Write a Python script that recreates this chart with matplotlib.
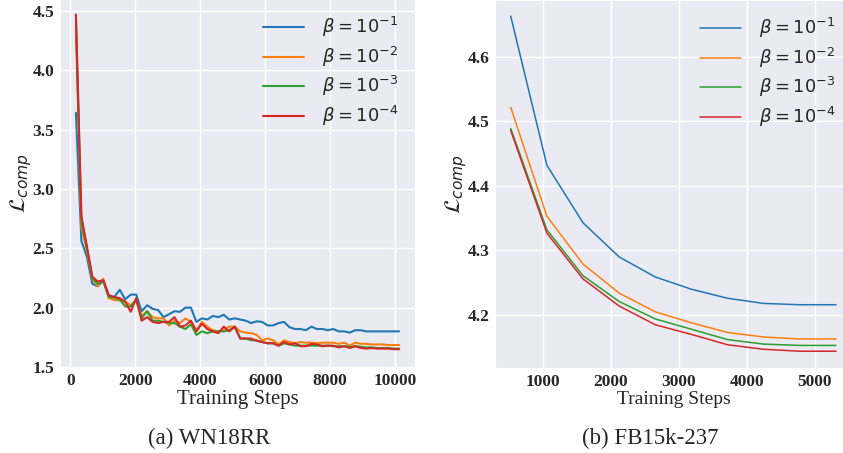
import numpy as np
import matplotlib
matplotlib.use("Agg")
import matplotlib.pyplot as plt
import seaborn as sns

# ---------------- data ----------------
labels = [r"$\beta=10^{-1}$", r"$\beta=10^{-2}$", r"$\beta=10^{-3}$", r"$\beta=10^{-4}$"]
colors = ["#1f77b4", "#ff7f0e", "#2ca02c", "#d62728"]

# WN18RR (left panel): 60 logged points
wn_steps = np.linspace(170, 10120, 60)
wn_b1 = [3.64, 2.56, 2.43, 2.20, 2.18, 2.23, 2.09, 2.09, 2.15, 2.07,
         2.11, 2.11, 1.97, 2.02, 1.99, 1.98, 1.92, 1.945, 1.97, 1.965,
         2.00, 2.00, 1.88, 1.91, 1.90, 1.93, 1.92, 1.94, 1.90, 1.91,
         1.90, 1.89, 1.87, 1.885, 1.88, 1.85, 1.85, 1.87, 1.88, 1.835,
         1.82, 1.82, 1.81, 1.84, 1.82, 1.82, 1.81, 1.82, 1.80, 1.80,
         1.79, 1.81, 1.81, 1.80, 1.80, 1.80, 1.80, 1.80, 1.80, 1.80]
wn_b2 = [4.33, 2.68, 2.48, 2.24, 2.18, 2.245, 2.08, 2.065, 2.06, 2.05,
         2.02, 2.065, 1.93, 1.97, 1.92, 1.91, 1.91, 1.85, 1.89, 1.87,
         1.91, 1.88, 1.81, 1.88, 1.84, 1.81, 1.80, 1.81, 1.84, 1.84,
         1.80, 1.79, 1.785, 1.77, 1.725, 1.74, 1.725, 1.69, 1.725, 1.71,
         1.70, 1.71, 1.705, 1.705, 1.70, 1.705, 1.705, 1.705, 1.695, 1.705,
         1.68, 1.705, 1.695, 1.695, 1.69, 1.69, 1.69, 1.685, 1.685, 1.685]
wn_b3 = [4.42, 2.72, 2.50, 2.25, 2.20, 2.22, 2.09, 2.085, 2.07, 2.01,
         2.01, 2.065, 1.91, 1.97, 1.89, 1.89, 1.88, 1.87, 1.87, 1.84,
         1.82, 1.86, 1.77, 1.80, 1.785, 1.80, 1.80, 1.80, 1.81, 1.84,
         1.74, 1.74, 1.725, 1.725, 1.71, 1.70, 1.70, 1.68, 1.70, 1.69,
         1.68, 1.68, 1.68, 1.68, 1.68, 1.68, 1.68, 1.675, 1.675, 1.675,
         1.67, 1.675, 1.67, 1.665, 1.665, 1.66, 1.66, 1.66, 1.655, 1.655]
wn_b4 = [4.47, 2.77, 2.52, 2.26, 2.22, 2.23, 2.105, 2.09, 2.08, 2.05,
         1.965, 2.08, 1.89, 1.92, 1.88, 1.87, 1.88, 1.88, 1.92, 1.84,
         1.85, 1.89, 1.80, 1.865, 1.82, 1.80, 1.785, 1.84, 1.80, 1.84,
         1.74, 1.74, 1.74, 1.72, 1.71, 1.70, 1.70, 1.68, 1.71, 1.69,
         1.70, 1.675, 1.675, 1.695, 1.69, 1.675, 1.68, 1.68, 1.665, 1.675,
         1.66, 1.675, 1.66, 1.655, 1.66, 1.655, 1.655, 1.655, 1.65, 1.65]

# FB15k-237 (right panel)
fb_steps = [531, 1063, 1594, 2126, 2657, 3189, 3720, 4252, 4783, 5315]
fb_b1 = [4.663, 4.432, 4.343, 4.290, 4.259, 4.240, 4.226, 4.218, 4.216, 4.216]
fb_b2 = [4.522, 4.353, 4.279, 4.234, 4.205, 4.188, 4.173, 4.166, 4.163, 4.163]
fb_b3 = [4.489, 4.332, 4.261, 4.221, 4.194, 4.178, 4.162, 4.155, 4.153, 4.153]
fb_b4 = [4.486, 4.327, 4.256, 4.214, 4.185, 4.170, 4.154, 4.147, 4.144, 4.144]

wn_yticks = [1.5, 2.0, 2.5, 3.0, 3.5, 4.0, 4.5]
wn_xticks = [0, 2000, 4000, 6000, 8000, 10000]
fb_yticks = [4.2, 4.3, 4.4, 4.5, 4.6]
fb_xticks = [1000, 2000, 3000, 4000, 5000]

# ---------------- style ----------------
sns.set_style("darkgrid")
plt.rcParams['font.family'] = ['Liberation Serif', 'DejaVu Serif']
plt.rcParams['mathtext.fontset'] = 'dejavusans'

W, H = 843, 453
fig = plt.figure(figsize=(W / 100, H / 100), dpi=100)

def px_axes(x0, x1, y0, y1):
    return fig.add_axes([x0 / W, 1 - y1 / H, (x1 - x0) / W, (y1 - y0) / H])

axL = px_axes(60, 415, -1, 367)
axR = px_axes(495, 852, 0, 368)

for ys, c, lab in zip([wn_b1, wn_b2, wn_b3, wn_b4], colors, labels):
    axL.plot(wn_steps, ys, color=c, lw=1.5, label=lab)
for ys, c, lab in zip([fb_b1, fb_b2, fb_b3, fb_b4], colors, labels):
    axR.plot(fb_steps, ys, color=c, lw=1.1, label=lab)

axL.set_xlim(-320, 10610)
axL.set_ylim(1.5, 4.6)
axL.set_xticks(wn_xticks)
axL.set_yticks(wn_yticks)
axL.set_yticklabels([f"{v:.1f}" for v in wn_yticks])

axR.set_xlim(300, 5550)
axR.set_ylim(4.118, 4.688)
axR.set_xticks(fb_xticks)
axR.set_yticks(fb_yticks)
axR.set_yticklabels([f"{v:.1f}" for v in fb_yticks])

for ax in (axL, axR):
    ax.tick_params(labelsize=12.5, length=0, pad=4)
    for t in ax.get_xticklabels() + ax.get_yticklabels():
        t.set_fontweight('bold')
    ax.grid(True, color='white', lw=1.0)
    ax.legend(loc='upper right', frameon=False, fontsize=13,
              handlelength=2.3, handletextpad=1.0, labelspacing=0.3,
              borderaxespad=0.5, borderpad=0.4)

axL.set_xlabel("Training Steps", fontsize=15, labelpad=1)
axR.set_xlabel("Training Steps", fontsize=14, labelpad=1)
axL.set_ylabel(r"$\mathcal{L}_{comp}$", fontsize=16)
axR.set_ylabel(r"$\mathcal{L}_{comp}$", fontsize=16)
axL.yaxis.set_label_coords(-0.074, 0.5)
axR.yaxis.set_label_coords(-0.072, 0.5)

fig.text(209 / W, 1 - 438 / H, "(a) WN18RR", ha='center', va='center', fontsize=16.5)
fig.text(650 / W, 1 - 438 / H, "(b) FB15k-237", ha='center', va='center', fontsize=16.5)

fig.savefig("out.png", dpi=100)
